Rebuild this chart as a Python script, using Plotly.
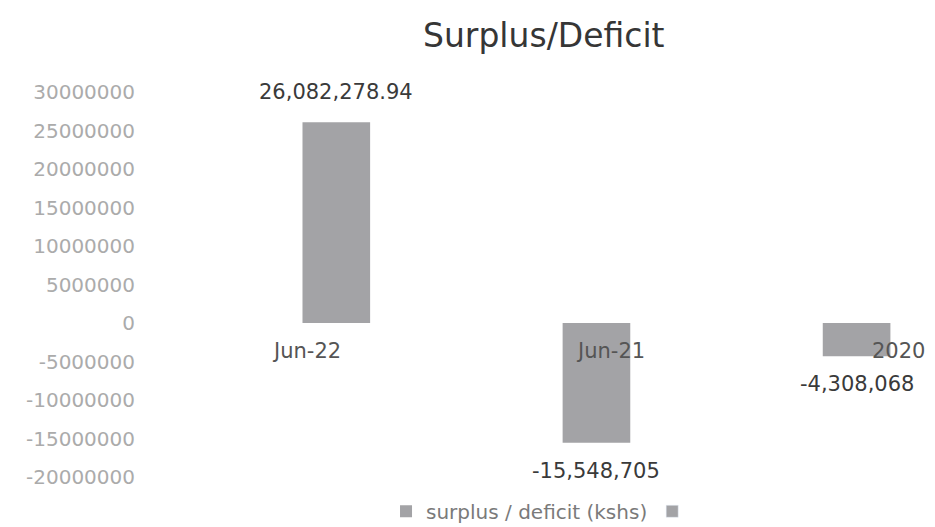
import plotly.graph_objects as go

categories = ["Jun-22", "Jun-21", "2020"]
values = [26082278.94, -15548705, -4308068]
value_labels = ["26,082,278.94", "-15,548,705", "-4,308,068"]
series_name = "surplus / deficit (kshs)"
y_ticks = [30000000, 25000000, 20000000, 15000000, 10000000, 5000000, 0,
           -5000000, -10000000, -15000000, -20000000]
y_tick_labels = [str(v) for v in y_ticks]

FONT = "DejaVu Sans"
BAR = "#a3a3a6"

fig = go.Figure()
fig.add_trace(go.Bar(
    x=categories, y=values, name=series_name,
    marker=dict(color=BAR, line=dict(width=0)),
    width=0.26,
))
fig.add_trace(go.Bar(
    x=categories, y=[None, None, None], name=" ",
    marker=dict(color=BAR), showlegend=True,
))

# data labels, offset from the bar ends (category index used as x)
for i, (v, t) in enumerate(zip(values, value_labels)):
    fig.add_annotation(x=i, y=v, xref="x", yref="y", text=t, showarrow=False,
                       yshift=30 if v > 0 else -28,
                       font=dict(family=FONT, size=21, color="#3a3a3a"))

# category labels drawn near the zero line, as in the original
label_shift = [-30, 14, 42]
for i, (c, dx) in enumerate(zip(categories, label_shift)):
    fig.add_annotation(x=i, y=0, xref="x", yref="y", text=c, showarrow=False,
                       xshift=dx, yshift=-28,
                       font=dict(family=FONT, size=21, color="#555555"))

fig.update_layout(
    width=935, height=527,
    paper_bgcolor="white", plot_bgcolor="white",
    margin=dict(l=128, r=5, t=84, b=58, autoexpand=False),
    title=dict(text="Surplus/Deficit", x=0.573, xanchor="center", y=0.947,
               yanchor="middle", automargin=False,
               font=dict(family=FONT, size=33, color="#363636")),
    barmode="overlay",
    showlegend=True,
    legend=dict(orientation="h", x=0.51, xanchor="center",
                yref="container", y=0.045, yanchor="middle",
                itemwidth=30,
                font=dict(family=FONT, size=20, color="#7a7a7a"),
                bgcolor="rgba(0,0,0,0)"),
    xaxis=dict(type="category", range=[-0.77, 2.313], showticklabels=False,
               showgrid=False, zeroline=False, showline=False, ticks=""),
    yaxis=dict(range=[-20000000, 30000000], tickvals=y_ticks, ticktext=y_tick_labels,
               showgrid=False, zeroline=False, showline=False, ticks="",
               tickfont=dict(family=FONT, size=20, color="#ababab")),
)

fig.write_html("out.html")
